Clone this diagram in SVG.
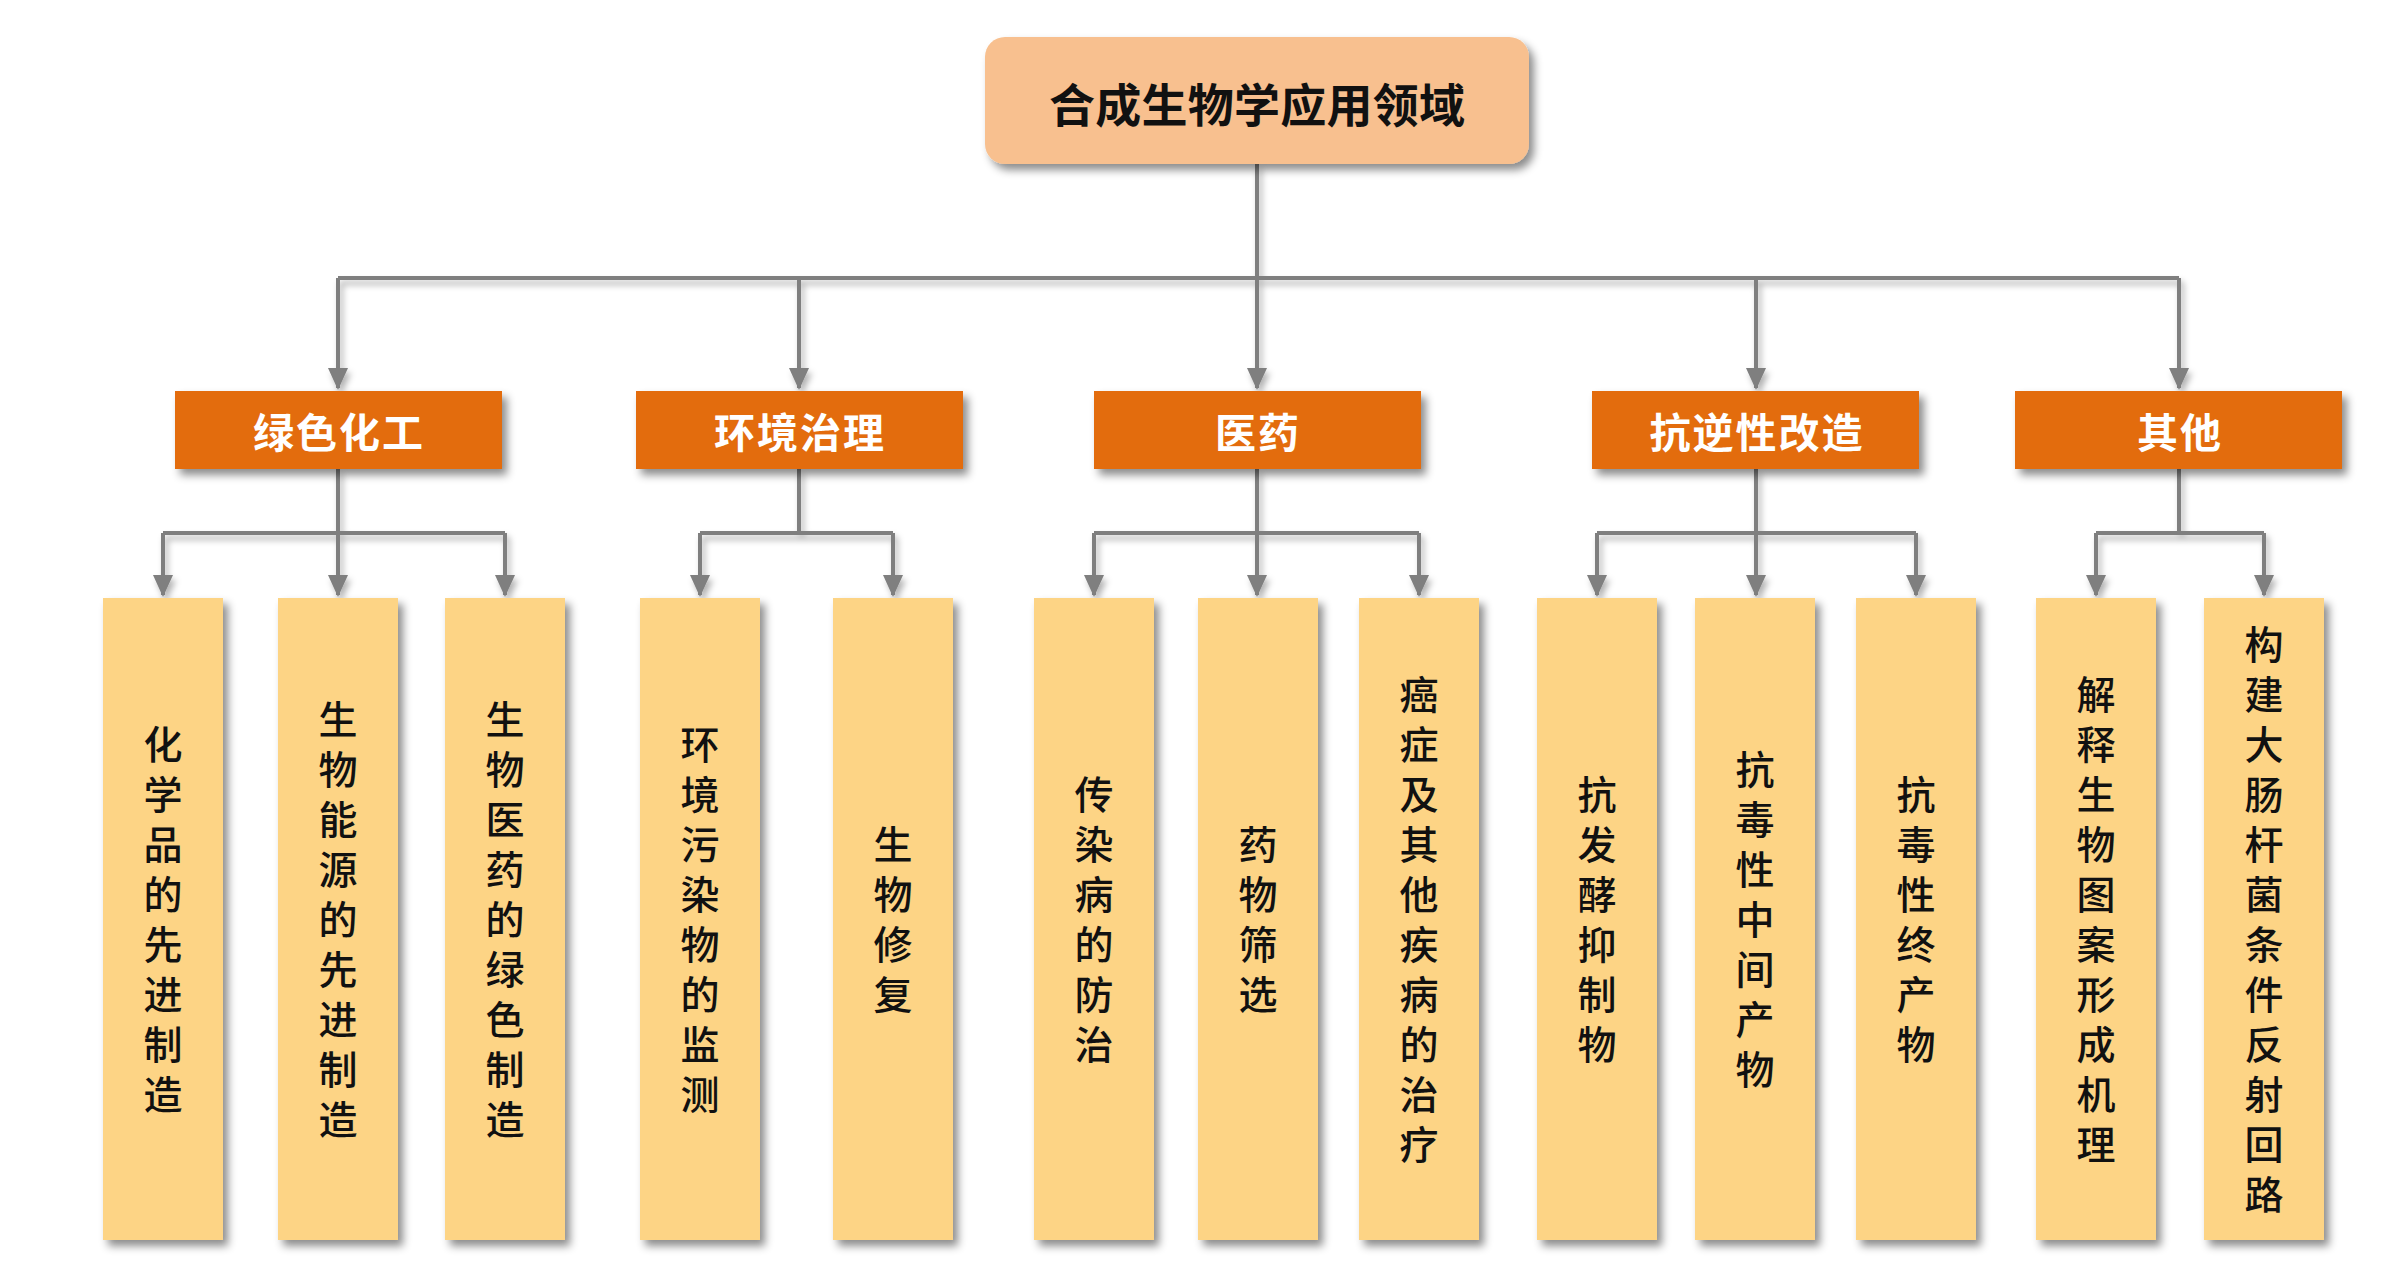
<svg xmlns="http://www.w3.org/2000/svg" width="2386" height="1280" viewBox="0 0 2386 1280">
<style>
.root{fill:#F8C08F}
.cat{fill:#E36C0A}
.leaf{fill:#FDD485}
.t{font-family:"Noto Sans CJK SC","Noto Sans",sans-serif;text-anchor:middle}
.rt{font-size:46px;font-weight:700;fill:#111;dominant-baseline:central}
.ct{font-size:41px;font-weight:700;fill:#fff;letter-spacing:2px;dominant-baseline:central}
.lt{font-size:39px;font-weight:500;fill:#111;writing-mode:vertical-rl;letter-spacing:11px}
.c{fill:none;stroke:#7F7F7F;stroke-width:4}
</style>
<defs>
<filter id="sh" x="-20%" y="-20%" width="150%" height="150%">
<feDropShadow dx="5" dy="6" stdDeviation="4" flood-color="#000" flood-opacity="0.45"/>
</filter>
<filter id="lsh" x="-10%" y="-10%" width="130%" height="130%">
<feDropShadow dx="3" dy="5" stdDeviation="3" flood-color="#000" flood-opacity="0.3"/>
</filter>
<marker id="ah" markerUnits="userSpaceOnUse" markerWidth="22" markerHeight="20" refX="20" refY="10" orient="auto" viewBox="0 0 22 20">
<path d="M0,0 L22,10 L0,20 Z" fill="#7F7F7F"/>
</marker>
</defs>
<rect width="2386" height="1280" fill="#fff"/>

<g id="connectors" filter="url(#lsh)">
<path class="c" d="M1257,164 V278"/>
<path class="c" d="M338,278 H2179"/>
<path class="c" d="M338,278 V388" marker-end="url(#ah)"/>
<path class="c" d="M799,278 V388" marker-end="url(#ah)"/>
<path class="c" d="M1257,278 V388" marker-end="url(#ah)"/>
<path class="c" d="M1756,278 V388" marker-end="url(#ah)"/>
<path class="c" d="M2179,278 V388" marker-end="url(#ah)"/>

<path class="c" d="M338,469 V533 M163,533 H505"/>
<path class="c" d="M163,533 V595" marker-end="url(#ah)"/>
<path class="c" d="M338,533 V595" marker-end="url(#ah)"/>
<path class="c" d="M505,533 V595" marker-end="url(#ah)"/>

<path class="c" d="M799,469 V533 M700,533 H893"/>
<path class="c" d="M700,533 V595" marker-end="url(#ah)"/>
<path class="c" d="M893,533 V595" marker-end="url(#ah)"/>

<path class="c" d="M1257,469 V533 M1094,533 H1419"/>
<path class="c" d="M1094,533 V595" marker-end="url(#ah)"/>
<path class="c" d="M1257,533 V595" marker-end="url(#ah)"/>
<path class="c" d="M1419,533 V595" marker-end="url(#ah)"/>

<path class="c" d="M1756,469 V533 M1597,533 H1916"/>
<path class="c" d="M1597,533 V595" marker-end="url(#ah)"/>
<path class="c" d="M1756,533 V595" marker-end="url(#ah)"/>
<path class="c" d="M1916,533 V595" marker-end="url(#ah)"/>

<path class="c" d="M2179,469 V533 M2096,533 H2264"/>
<path class="c" d="M2096,533 V595" marker-end="url(#ah)"/>
<path class="c" d="M2264,533 V595" marker-end="url(#ah)"/>
</g>

<g id="root">
<rect class="root" x="985" y="37" width="544" height="127" rx="20" filter="url(#sh)"/>
<text class="t rt" x="1257" y="102" textLength="416" lengthAdjust="spacing">合成生物学应用领域</text>
</g>

<g id="cat1"><rect class="cat" x="175" y="391" width="327" height="78" filter="url(#sh)"/><text class="t ct" x="339" y="430">绿色化工</text></g>
<g id="cat2"><rect class="cat" x="636" y="391" width="327" height="78" filter="url(#sh)"/><text class="t ct" x="800" y="430">环境治理</text></g>
<g id="cat3"><rect class="cat" x="1094" y="391" width="327" height="78" filter="url(#sh)"/><text class="t ct" x="1258" y="430">医药</text></g>
<g id="cat4"><rect class="cat" x="1592" y="391" width="327" height="78" filter="url(#sh)"/><text class="t ct" x="1757" y="430">抗逆性改造</text></g>
<g id="cat5"><rect class="cat" x="2015" y="391" width="327" height="78" filter="url(#sh)"/><text class="t ct" x="2180" y="430">其他</text></g>

<g id="leaf1"><rect class="leaf" x="103" y="598" width="120" height="642" filter="url(#sh)"/><text class="t lt" x="163" y="925">化学品的先进制造</text></g>
<g id="leaf2"><rect class="leaf" x="278" y="598" width="120" height="642" filter="url(#sh)"/><text class="t lt" x="338" y="925">生物能源的先进制造</text></g>
<g id="leaf3"><rect class="leaf" x="445" y="598" width="120" height="642" filter="url(#sh)"/><text class="t lt" x="505" y="925">生物医药的绿色制造</text></g>
<g id="leaf4"><rect class="leaf" x="640" y="598" width="120" height="642" filter="url(#sh)"/><text class="t lt" x="700" y="925">环境污染物的监测</text></g>
<g id="leaf5"><rect class="leaf" x="833" y="598" width="120" height="642" filter="url(#sh)"/><text class="t lt" x="893" y="925">生物修复</text></g>
<g id="leaf6"><rect class="leaf" x="1034" y="598" width="120" height="642" filter="url(#sh)"/><text class="t lt" x="1094" y="925">传染病的防治</text></g>
<g id="leaf7"><rect class="leaf" x="1198" y="598" width="120" height="642" filter="url(#sh)"/><text class="t lt" x="1258" y="925">药物筛选</text></g>
<g id="leaf8"><rect class="leaf" x="1359" y="598" width="120" height="642" filter="url(#sh)"/><text class="t lt" x="1419" y="925">癌症及其他疾病的治疗</text></g>
<g id="leaf9"><rect class="leaf" x="1537" y="598" width="120" height="642" filter="url(#sh)"/><text class="t lt" x="1597" y="925">抗发酵抑制物</text></g>
<g id="leaf10"><rect class="leaf" x="1695" y="598" width="120" height="642" filter="url(#sh)"/><text class="t lt" x="1755" y="925">抗毒性中间产物</text></g>
<g id="leaf11"><rect class="leaf" x="1856" y="598" width="120" height="642" filter="url(#sh)"/><text class="t lt" x="1916" y="925">抗毒性终产物</text></g>
<g id="leaf12"><rect class="leaf" x="2036" y="598" width="120" height="642" filter="url(#sh)"/><text class="t lt" x="2096" y="925">解释生物图案形成机理</text></g>
<g id="leaf13"><rect class="leaf" x="2204" y="598" width="120" height="642" filter="url(#sh)"/><text class="t lt" x="2264" y="925">构建大肠杆菌条件反射回路</text></g>
</svg>
